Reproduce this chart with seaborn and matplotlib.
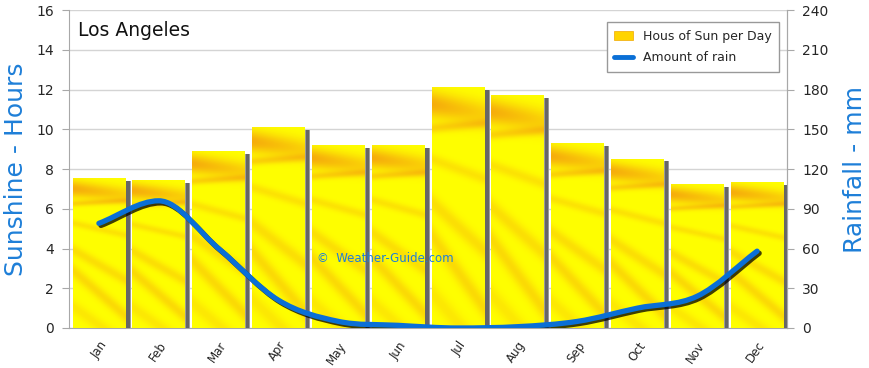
import numpy as np
import matplotlib
matplotlib.use("Agg")
import matplotlib.pyplot as plt
import matplotlib.patheffects as pe
from matplotlib.path import Path
from matplotlib.patches import PathPatch, Patch
from matplotlib.lines import Line2D
import seaborn as sns

# data
months = ["Jan", "Feb", "Mar", "Apr", "May", "Jun",
          "Jul", "Aug", "Sep", "Oct", "Nov", "Dec"]
sun_hours = [7.5, 7.4, 8.9, 10.1, 9.2, 9.2, 12.1, 11.7, 9.3, 8.5, 7.2, 7.3]
rain_mm = [79, 96, 60, 21, 5, 2, 0, 1, 5, 15, 24, 58]

sun_ticks = [0, 2, 4, 6, 8, 10, 12, 14, 16]
rain_ticks = [0, 30, 60, 90, 120, 150, 180, 210, 240]

blue = "#1E7FD8"
gray = "#a8a8a8"

sns.set_style("white")
plt.rcParams["font.family"] = ["DejaVu Sans"]

fig = plt.figure(figsize=(8.7, 3.68), dpi=100)
ax = fig.add_axes([0.0793, 0.1087, 0.8253, 0.8641])

bar_w = 0.88
sns.barplot(x=months, y=sun_hours, color="#ffff00", width=bar_w,
            saturation=1, linewidth=0, ax=ax, zorder=3)


# yellow / orange streaky texture for the bars
def texture(h=240, w=60):
    v, u = np.mgrid[0:1:h * 1j, 0:1:w * 1j]
    t = 0.9 * np.exp(-((v - 0.07 - 0.04 * u) / 0.055) ** 2) * (0.55 + 0.45 * (1 - u))
    t += 0.45 * np.exp(-((v - 0.17 + 0.02 * u) / 0.02) ** 2)
    t += 0.3 * np.exp(-((v - 0.3 - 0.08 * u) / 0.025) ** 2)
    t += 0.35 * np.exp(-((v - 0.48 - 0.2 * u) / 0.04) ** 2)
    t += 0.4 * np.exp(-((v - 0.62 - 0.3 * u) / 0.05) ** 2)
    t += 0.25 * np.exp(-((v - 0.86 - 0.25 * u) / 0.05) ** 2)
    t = np.clip(t, 0, 1)[..., None]
    yellow = np.array([1.0, 1.0, 0.0])
    orange = np.array([0.96, 0.64, 0.05])
    return yellow * (1 - t) + orange * t


tex = texture()
for p in list(ax.patches):
    x0 = p.get_x()
    h = p.get_height()
    ax.imshow(tex, extent=(x0, x0 + p.get_width(), 0, h), aspect="auto",
              interpolation="bilinear", zorder=3.5)
    # grey shadow on the right
    ax.bar(x0 + p.get_width() + 0.045, h - 0.12, width=0.09,
           color="#9a9a9a", linewidth=0, zorder=2.8)
    ax.bar(x0 + p.get_width() + 0.045, h - 0.12, width=0.055,
           color="#666666", linewidth=0, zorder=2.9)

ax.set_xlim(-0.5, 11.5)
ax.set_ylim(0, 16)
ax.set_yticks(sun_ticks)
ax.yaxis.grid(True, color="#d4d4d4", lw=1)
ax.set_axisbelow(True)
ax.set_xticks(range(12))
ax.set_xticklabels(months, rotation=55, ha="right", rotation_mode="anchor",
                   fontsize=8.5)
ax.set_xticks(np.arange(-0.5, 12, 1), minor=True)
ax.tick_params(axis="x", which="major", length=0, pad=8)
ax.tick_params(axis="x", which="minor", length=5, color=gray, width=1)
ax.tick_params(axis="y", length=5, color=gray, labelsize=10, pad=6)
ax.set_xlabel("")
ax.set_ylabel("Sunshine - Hours", color=blue, fontsize=18, labelpad=6)
ax.spines["top"].set_visible(False)
for s in ["left", "bottom", "right"]:
    ax.spines[s].set_color(gray)

ax.text(0.0125, 0.937, "Los Angeles", transform=ax.transAxes,
        fontsize=13.5, va="center", ha="left", color="#111111")
ax.text(0.44, 0.22, "©  Weather-Guide.com", transform=ax.transAxes,
        fontsize=8.5, va="center", ha="center", color=blue, zorder=6)

# rainfall on the right axis, smooth monotone curve through the month values
ax2 = ax.twinx()
ax2.set_ylim(0, 240)
ax2.set_yticks(rain_ticks)
ax2.tick_params(axis="y", length=5, color=gray, labelsize=10, pad=6)
ax2.set_ylabel("Rainfall - mm", color=blue, fontsize=18, labelpad=10)
for s in ["top", "left", "bottom"]:
    ax2.spines[s].set_visible(False)
ax2.spines["right"].set_color(gray)

xs = np.arange(len(rain_mm), dtype=float)
ys = np.array(rain_mm, dtype=float)
d = np.diff(ys)
m = np.zeros_like(ys)
m[0], m[-1] = d[0], d[-1]
for k in range(1, len(ys) - 1):
    m[k] = 0 if d[k - 1] * d[k] <= 0 else (d[k - 1] + d[k]) / 2
verts = [(xs[0], ys[0])]
codes = [Path.MOVETO]
for k in range(len(ys) - 1):
    verts += [(xs[k] + 1 / 3, ys[k] + m[k] / 3),
              (xs[k + 1] - 1 / 3, ys[k + 1] - m[k + 1] / 3),
              (xs[k + 1], ys[k + 1])]
    codes += [Path.CURVE4] * 3
curve = PathPatch(Path(verts, codes), fill=False, edgecolor="#0a6fd6",
                  lw=3.8, capstyle="round", zorder=5,
                  path_effects=[pe.SimpleLineShadow(offset=(1.5, -1.5),
                                                    shadow_color="k", alpha=0.75),
                                pe.Normal()])
ax2.add_patch(curve)

handles = [Patch(facecolor="#ffd400", edgecolor="#f0a800", lw=0.5),
           Line2D([], [], color="#0a6fd6", lw=3.5)]
leg = ax2.legend(handles, ["Hous of Sun per Day", "Amount of rain"],
                 loc="upper right", bbox_to_anchor=(0.989, 0.962),
                 borderaxespad=0, fancybox=False, framealpha=1,
                 edgecolor="#999999", fontsize=9, handlelength=1.5,
                 borderpad=0.6, labelspacing=0.7)
leg.get_frame().set_linewidth(1)

fig.savefig("out.png", dpi=100)
